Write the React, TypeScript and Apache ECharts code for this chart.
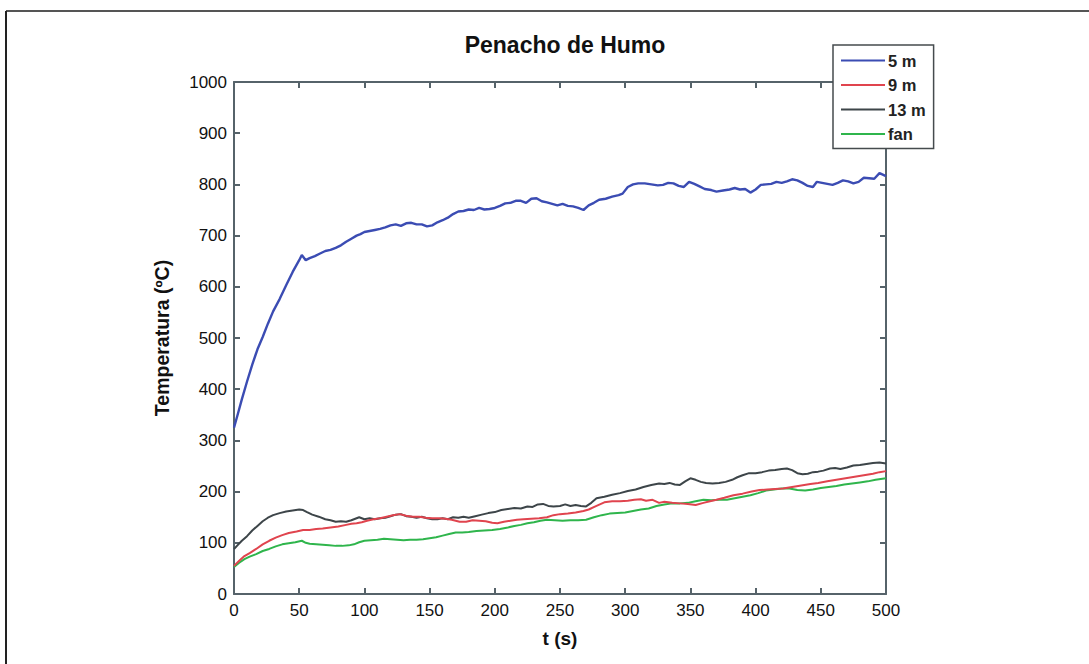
import React, { useEffect, useRef } from "react";
import * as echarts from "echarts";

const titleText = "Penacho de Humo";
const xAxisName = "t (s)";
const yAxisName = "Temperatura (ºC)";
const seriesNames = ["5 m", "9 m", "13 m", "fan"];

const t5m = [0, 3, 6, 10, 14, 18, 22, 26, 30, 35, 40, 45, 50, 52, 55, 58, 62, 66, 70, 74, 78, 82, 86, 90, 94, 97, 100, 104, 108, 112, 116, 120, 124, 128, 132, 136, 140, 144, 148, 152, 156, 160, 164, 168, 172, 176, 180, 184, 188, 192, 196, 200, 204, 208, 212, 216, 220, 224, 228, 232, 236, 240, 244, 248, 252, 256, 260, 264, 268, 272, 276, 280, 285, 290, 295, 298, 302, 306, 310, 315, 320, 325, 329, 333, 337, 341, 345, 349, 353, 357, 361, 366, 370, 375, 380, 384, 388, 392, 396, 400, 404, 408, 412, 416, 420, 424, 428, 432, 436, 440, 444, 447, 451, 455, 459, 463, 467, 471, 475, 479, 483, 487, 491, 495, 500];
const v5m = [325, 352, 380, 415, 448, 478, 502, 528, 552, 576, 603, 629, 652, 662, 652, 656, 660, 665, 670, 672, 676, 681, 688, 694, 700, 703, 707, 709, 711, 713, 716, 720, 722, 719, 724, 725, 722, 722, 718, 720, 726, 730, 735, 742, 747, 748, 751, 750, 754, 751, 752, 754, 758, 763, 764, 768, 768, 764, 772, 773, 767, 765, 762, 759, 762, 758, 757, 754, 750, 759, 764, 770, 772, 776, 779, 782, 795, 800, 802, 802, 800, 798, 799, 803, 802, 797, 795, 805, 801, 796, 791, 789, 786, 788, 790, 793, 790, 791, 784, 790, 799, 800, 801, 805, 803, 806, 810, 808, 803, 797, 795, 805, 803, 801, 799, 803, 808, 806, 802, 805, 813, 812, 811, 822, 816];

const t9m = [0, 4, 8, 12, 17, 22, 27, 32, 37, 42, 48, 53, 58, 63, 68, 74, 80, 86, 90, 94, 98, 102, 107, 112, 117, 122, 127, 132, 137, 142, 147, 152, 157, 162, 167, 173, 178, 183, 188, 193, 198, 202, 207, 212, 217, 222, 228, 234, 240, 245, 250, 256, 262, 268, 272, 278, 284, 290, 296, 302, 307, 312, 316, 321, 326, 330, 336, 342, 348, 354, 360, 365, 370, 376, 383, 390, 397, 403, 409, 415, 421, 428, 435, 442, 448, 455, 462, 469, 476, 483, 490, 495, 500];
const v9m = [55, 65, 74, 80, 88, 97, 104, 110, 115, 119, 122, 125, 125, 127, 128, 130, 132, 135, 137, 138, 140, 143, 146, 148, 151, 154, 156, 153, 151, 151, 149, 148, 148, 147, 145, 141, 141, 144, 143, 142, 139, 138, 141, 143, 145, 146, 147, 148, 150, 154, 156, 157, 159, 162, 165, 172, 179, 181, 181, 182, 184, 185, 182, 184, 178, 180, 178, 177, 176, 174, 178, 181, 184, 188, 193, 196, 200, 203, 204, 205, 206, 209, 212, 215, 217, 220, 223, 226, 229, 232, 235, 238, 240];

const t13m = [0, 3, 6, 10, 14, 18, 22, 26, 30, 35, 40, 45, 50, 53, 56, 60, 65, 70, 74, 78, 82, 86, 90, 93, 96, 100, 104, 108, 112, 116, 120, 124, 128, 132, 136, 140, 144, 148, 152, 156, 160, 164, 168, 172, 176, 180, 185, 190, 195, 200, 205, 210, 215, 220, 225, 229, 233, 237, 241, 245, 250, 254, 258, 262, 266, 270, 274, 278, 284, 290, 296, 302, 308, 314, 320, 326, 330, 334, 338, 342, 346, 350, 354, 358, 362, 367, 372, 377, 382, 386, 390, 395, 400, 405, 410, 415, 420, 424, 428, 432, 436, 440, 444, 448, 452, 457, 461, 465, 470, 475, 480, 485, 490, 495, 500];
const v13m = [88, 96, 104, 113, 124, 133, 142, 149, 154, 158, 161, 163, 165, 164, 160, 155, 151, 146, 144, 141, 142, 141, 144, 147, 150, 146, 148, 146, 148, 149, 152, 155, 156, 152, 151, 149, 151, 148, 146, 146, 148, 146, 150, 149, 151, 149, 152, 155, 158, 160, 164, 166, 168, 167, 171, 170, 175, 176, 172, 171, 172, 175, 172, 174, 172, 171, 178, 187, 190, 194, 197, 201, 204, 209, 213, 216, 215, 217, 214, 213, 220, 226, 223, 219, 217, 216, 217, 219, 223, 228, 232, 236, 236, 238, 241, 242, 244, 245, 242, 236, 234, 235, 238, 239, 241, 245, 246, 244, 247, 251, 252, 254, 256, 257, 255];

const tFan = [0, 4, 8, 12, 17, 22, 27, 32, 37, 42, 47, 52, 55, 58, 63, 68, 73, 78, 83, 88, 92, 96, 100, 105, 110, 115, 120, 125, 130, 135, 140, 145, 150, 155, 160, 165, 170, 175, 180, 186, 192, 198, 204, 210, 215, 220, 225, 230, 235, 240, 246, 252, 258, 264, 270, 276, 282, 288, 294, 300, 306, 312, 318, 324, 330, 336, 342, 348, 354, 360, 366, 372, 378, 384, 390, 396, 402, 408, 414, 420, 426, 432, 438, 444, 450, 456, 462, 468, 474, 480, 486, 492, 500];
const vFan = [53, 61, 68, 73, 78, 84, 88, 93, 97, 99, 101, 104, 100, 98, 97, 96, 95, 94, 94, 95, 97, 101, 104, 105, 106, 108, 107, 106, 105, 106, 106, 107, 109, 111, 114, 117, 120, 120, 121, 123, 124, 125, 127, 130, 133, 135, 138, 140, 143, 145, 144, 143, 144, 144, 145, 150, 154, 157, 158, 159, 162, 165, 167, 172, 175, 177, 177, 178, 181, 184, 183, 184, 184, 187, 190, 193, 197, 202, 204, 206, 206, 203, 202, 204, 207, 209, 211, 214, 216, 218, 220, 223, 226];

const seriesColors = ["#3b4cb3", "#e0444e", "#3d4549", "#2fb54c"];
const seriesWidths = [2.4, 2, 2, 2];

const xTicks = [0, 50, 100, 150, 200, 250, 300, 350, 400, 450, 500];
const yTicks = [0, 100, 200, 300, 400, 500, 600, 700, 800, 900, 1000];

function zip(t: number[], v: number[]) {
  return t.map((x, i) => [x, v[i]]);
}

export default function App() {
  const ref = useRef<HTMLDivElement>(null);
  useEffect(() => {
    if (!ref.current) return;
    const chart = echarts.init(ref.current, undefined, { renderer: "svg" });
    const axisColor = "#56636a";
    const font = "Liberation Sans, Arial, sans-serif";
    const xBase = {
      type: "value",
      min: xTicks[0],
      max: xTicks[xTicks.length - 1],
      interval: 50,
      splitLine: { show: false },
      axisLine: { show: true, onZero: false, lineStyle: { color: axisColor, width: 2 } },
      axisTick: { show: true, inside: true, length: 6, lineStyle: { color: axisColor, width: 2 } },
    };
    const yBase = {
      type: "value",
      min: yTicks[0],
      max: yTicks[yTicks.length - 1],
      interval: 100,
      splitLine: { show: false },
      axisLine: { show: true, onZero: false, lineStyle: { color: axisColor, width: 2 } },
      axisTick: { show: true, inside: true, length: 6, lineStyle: { color: axisColor, width: 2 } },
    };
    const data = [zip(t5m, v5m), zip(t9m, v9m), zip(t13m, v13m), zip(tFan, vFan)];
    chart.setOption({
      animation: false,
      backgroundColor: "#ffffff",
      title: {
        text: titleText,
        left: 560,
        top: 28,
        textAlign: "center",
        textStyle: { fontFamily: font, fontWeight: "bold", fontSize: 23, color: "#111" },
      },
      grid: { left: 234, right: 203, top: 82, bottom: 70, containLabel: false },
      xAxis: [
        {
          ...xBase,
          position: "bottom",
          name: xAxisName,
          nameLocation: "middle",
          nameGap: 35,
          nameTextStyle: { fontFamily: font, fontWeight: "bold", fontSize: 19, color: "#111" },
          axisLabel: { show: true, margin: 8, fontFamily: font, fontSize: 17, color: "#111", formatter: (v: number) => String(v) },
        },
        { ...xBase, position: "top", axisLabel: { show: false } },
      ],
      yAxis: [
        {
          ...yBase,
          position: "left",
          name: yAxisName,
          nameLocation: "middle",
          nameGap: 62,
          nameTextStyle: { fontFamily: font, fontWeight: "bold", fontSize: 19.5, color: "#111" },
          axisLabel: { show: true, margin: 7, fontFamily: font, fontSize: 17, color: "#111", formatter: (v: number) => String(v) },
        },
        { ...yBase, position: "right", axisLabel: { show: false } },
      ],
      legend: {
        orient: "vertical",
        left: 833,
        top: 45,
        padding: [7, 8, 6, 8],
        itemGap: 7.5,
        itemWidth: 44,
        itemHeight: 2,
        icon: "rect",
        backgroundColor: "#ffffff",
        borderColor: "#454b4e",
        borderWidth: 1.5,
        borderRadius: 0,
        z: 10,
        data: seriesNames,
        textStyle: { fontFamily: font, fontWeight: "bold", fontSize: 16.5, color: "#222", padding: [0, 0, 0, -2], lineHeight: 16 },
      },
      graphic: [
        { type: "line", shape: { x1: 6, y1: 11, x2: 1089, y2: 11 }, style: { stroke: "#555", lineWidth: 2 } },
        { type: "line", shape: { x1: 6, y1: 11, x2: 6, y2: 664 }, style: { stroke: "#222", lineWidth: 2 } },
      ],
      series: seriesNames.map((n, i) => ({
        name: n,
        type: "line",
        data: data[i],
        showSymbol: false,
        symbol: "none",
        color: seriesColors[i],
        lineStyle: { color: seriesColors[i], width: seriesWidths[i] },
        z: 2 + (3 - i),
      })),
    });
    return () => chart.dispose();
  }, []);
  return <div ref={ref} style={{ position: "absolute", left: 0, top: 0, width: 1089, height: 664 }} />;
}
